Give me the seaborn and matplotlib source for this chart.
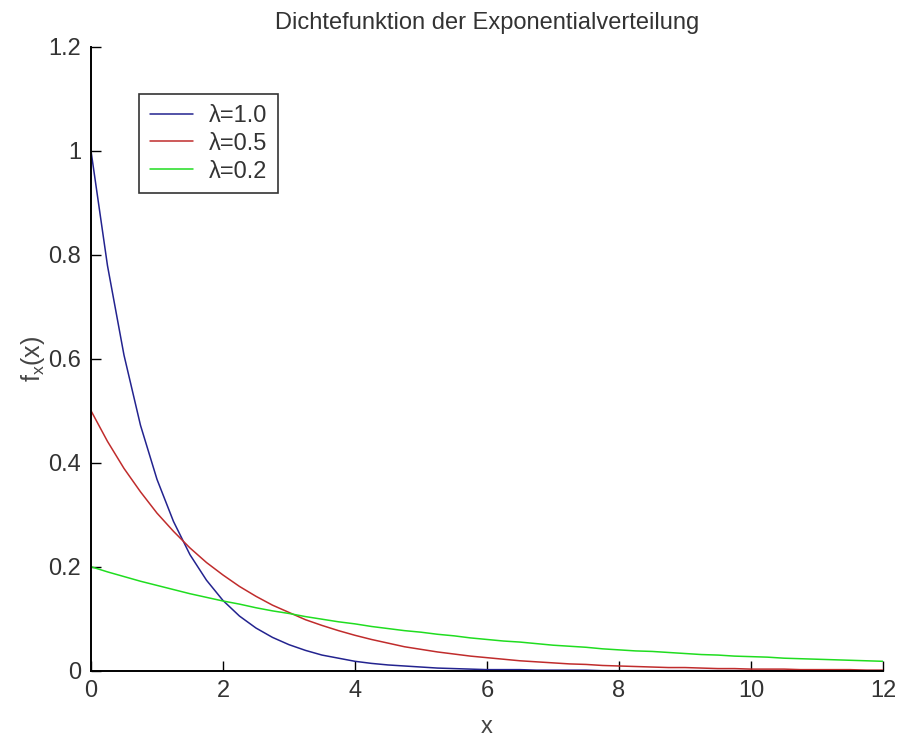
import numpy as np
import pandas as pd
import matplotlib
matplotlib.use("Agg")
import matplotlib.pyplot as plt
import seaborn as sns

x_vals = [0.0, 0.25, 0.5, 0.75, 1.0, 1.25, 1.5, 1.75, 2.0, 2.25, 2.5, 2.75,
          3.0, 3.25, 3.5, 3.75, 4.0, 4.25, 4.5, 4.75, 5.0, 5.25, 5.5, 5.75,
          6.0, 6.25, 6.5, 6.75, 7.0, 7.25, 7.5, 7.75, 8.0, 8.25, 8.5, 8.75,
          9.0, 9.25, 9.5, 9.75, 10.0, 10.25, 10.5, 10.75, 11.0, 11.25, 11.5,
          11.75, 12.0]

lam_10 = [1.000, 0.779, 0.607, 0.472, 0.368, 0.287, 0.223, 0.174, 0.135, 0.105,
          0.082, 0.064, 0.050, 0.039, 0.030, 0.024, 0.018, 0.014, 0.011, 0.009,
          0.007, 0.005, 0.004, 0.003, 0.002, 0.002, 0.002, 0.001, 0.001, 0.001,
          0.001, 0.000, 0.000, 0.000, 0.000, 0.000, 0.000, 0.000, 0.000, 0.000,
          0.000, 0.000, 0.000, 0.000, 0.000, 0.000, 0.000, 0.000, 0.000]

lam_05 = [0.500, 0.441, 0.389, 0.344, 0.303, 0.268, 0.236, 0.208, 0.184, 0.162,
          0.143, 0.126, 0.112, 0.098, 0.087, 0.077, 0.068, 0.060, 0.053, 0.046,
          0.041, 0.036, 0.032, 0.028, 0.025, 0.022, 0.019, 0.017, 0.015, 0.013,
          0.012, 0.010, 0.009, 0.008, 0.007, 0.006, 0.006, 0.005, 0.004, 0.004,
          0.003, 0.003, 0.003, 0.002, 0.002, 0.002, 0.002, 0.001, 0.001]

lam_02 = [0.200, 0.190, 0.181, 0.172, 0.164, 0.156, 0.148, 0.141, 0.134, 0.128,
          0.121, 0.115, 0.110, 0.104, 0.099, 0.094, 0.090, 0.085, 0.081, 0.077,
          0.074, 0.070, 0.067, 0.063, 0.060, 0.057, 0.055, 0.052, 0.049, 0.047,
          0.045, 0.042, 0.040, 0.038, 0.037, 0.035, 0.033, 0.031, 0.030, 0.028,
          0.027, 0.026, 0.024, 0.023, 0.022, 0.021, 0.020, 0.019, 0.018]

labels = ["λ=1.0", "λ=0.5", "λ=0.2"]
colors = ["#23238f", "#c02c2c", "#20dd20"]

x_ticks = [0, 2, 4, 6, 8, 10, 12]
y_ticks = [0, 0.2, 0.4, 0.6, 0.8, 1, 1.2]
y_tick_labels = ["0", "0.2", "0.4", "0.6", "0.8", "1", "1.2"]

df = pd.concat([
    pd.DataFrame({"x": x_vals, "y": vals, "series": lab})
    for vals, lab in zip([lam_10, lam_05, lam_02], labels)
], ignore_index=True)

sns.set_style("white")
plt.rcParams["font.family"] = ["Liberation Sans", "DejaVu Sans"]

fig = plt.figure(figsize=(8.99, 7.37), dpi=100)
ax = fig.add_axes([0.1012, 0.09, 0.881, 0.8466])

sns.lineplot(data=df, x="x", y="y", hue="series", palette=colors,
             hue_order=labels, ax=ax, linewidth=1.1, estimator=None,
             sort=False)

ax.set_xlim(0, 12)
ax.set_ylim(0, 1.2)
ax.set_xticks(x_ticks)
ax.set_xticklabels([str(t) for t in x_ticks])
ax.set_yticks(y_ticks)
ax.set_yticklabels(y_tick_labels)
ax.tick_params(bottom=True, left=True, direction="in", length=7, width=1.0,
               labelsize=17, colors="black", labelcolor="#333333", pad=7)
for side in ["top", "right"]:
    ax.spines[side].set_visible(False)
for side in ["left", "bottom"]:
    ax.spines[side].set_color("black")
    ax.spines[side].set_linewidth(1.4)

ax.set_title("Dichtefunktion der Exponentialverteilung", fontsize=17,
             color="#333333", pad=13)
ax.set_xlabel("x", fontsize=17, color="#444444", labelpad=10)
ax.set_ylabel(r"$\mathregular{f_x(x)}$", fontsize=18, color="#444444")
ax.yaxis.set_label_coords(-0.056, 0.5)

leg = ax.legend(loc="upper left", bbox_to_anchor=(0.0606, 0.924),
                borderaxespad=0, fontsize=17, frameon=True, fancybox=False,
                edgecolor="black", handlelength=1.85, handletextpad=0.65,
                borderpad=0.45, labelspacing=0.25)
leg.get_frame().set_linewidth(1.2)
for t in leg.get_texts():
    t.set_color("#333333")

fig.savefig("out.png", dpi=100)
